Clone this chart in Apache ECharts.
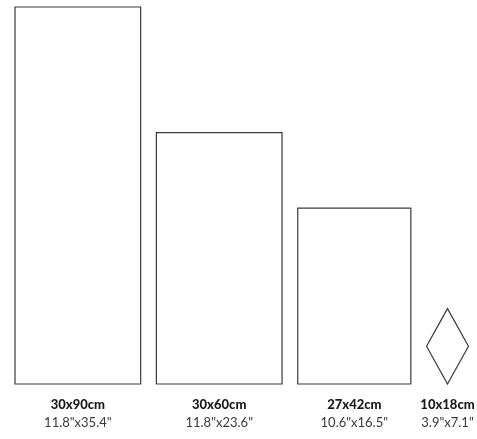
<!DOCTYPE html>
<html>
<head>
<meta charset="utf-8">
<script src="https://cdn.jsdelivr.net/npm/echarts@6/dist/echarts.min.js"></script>
<style>
  html, body { margin: 0; padding: 0; background: #fff; }
  #main { width: 477px; height: 439px; }
</style>
</head>
<body>
<div id="main"></div>
<script>
// tile formats, sizes in cm
var sizeLabels = ['30x90cm', '30x60cm', '27x42cm', '10x18cm'];
var inchLabels = ['11.8"x35.4"', '11.8"x23.6"', '10.6"x16.5"', '3.9"x7.1"'];
var widthsCm = [30, 30, 27, 10];
var heightsCm = [90, 60, 42, 18];
var shapes = ['rect', 'rect', 'rect', 'diamond'];

// place shapes side by side with a fixed gap (cm)
var gap = 3.75;
var data = [];
var cursor = 0;
for (var i = 0; i < widthsCm.length; i++) {
  data.push([cursor, widthsCm[i], heightsCm[i], i]);
  cursor += widthsCm[i] + gap;
}
var xMax = cursor - gap;

var myChart = echarts.init(document.getElementById('main'));

function renderItem(params, api) {
  var x0 = api.value(0), w = api.value(1), h = api.value(2), idx = api.value(3);
  var p0 = api.coord([x0, 0]);
  var p1 = api.coord([x0 + w, h]);
  var cx = (p0[0] + p1[0]) / 2;
  var lineStyle = { fill: 'none', stroke: '#3a3a3a', lineWidth: 1.2 };
  var shape;
  if (shapes[idx] === 'diamond') {
    var cy = (p0[1] + p1[1]) / 2;
    shape = {
      type: 'polygon',
      shape: { points: [[cx, p1[1]], [p1[0], cy], [cx, p0[1]], [p0[0], cy]] },
      style: lineStyle
    };
  } else {
    shape = {
      type: 'rect',
      shape: { x: p0[0], y: p1[1], width: p1[0] - p0[0], height: p0[1] - p1[1] },
      style: lineStyle
    };
  }
  return {
    type: 'group',
    children: [
      shape,
      {
        type: 'text',
        style: {
          x: cx, y: p0[1] + 21, text: sizeLabels[idx],
          align: 'center', verticalAlign: 'middle',
          font: '900 13px Lato, "Open Sans", sans-serif', fill: '#1a1a1a'
        }
      },
      {
        type: 'text',
        style: {
          x: cx, y: p0[1] + 39, text: inchLabels[idx],
          align: 'center', verticalAlign: 'middle',
          font: '13px Lato, "Open Sans", sans-serif', fill: '#3a3a3a'
        }
      }
    ]
  };
}

myChart.setOption({
  animation: false,
  grid: { left: 15, top: 7, bottom: 55, width: xMax * 377 / 90 },
  xAxis: { type: 'value', min: 0, max: xMax, show: false },
  yAxis: { type: 'value', min: 0, max: 90, show: false },
  series: [{
    type: 'custom',
    renderItem: renderItem,
    encode: { x: 0, y: 2 },
    data: data
  }]
});
</script>
</body>
</html>
